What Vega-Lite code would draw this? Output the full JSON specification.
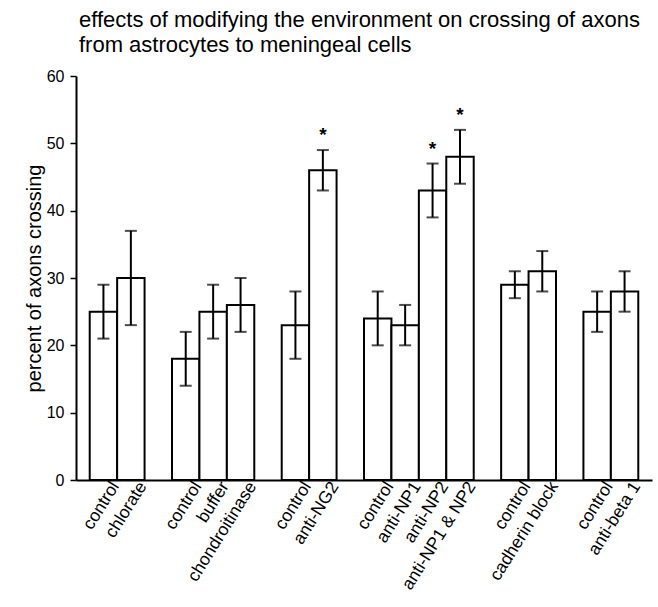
{
  "$schema": "https://vega.github.io/schema/vega-lite/v6.json",
  "width": 576,
  "height": 404,
  "autosize": {"type": "none"},
  "padding": {"left": 76, "top": 76, "right": 6, "bottom": 127},
  "background": "white",
  "title": {
    "text": ["effects of modifying the environment on crossing of axons", "from astrocytes to meningeal cells"],
    "anchor": "start",
    "frame": "group",
    "font": "Liberation Sans",
    "fontSize": 22,
    "fontWeight": "normal",
    "color": "black",
    "lineHeight": 25,
    "offset": 11,
    "dx": 3
  },
  "data": {
    "values": [
      {"key": "1|control", "value": 25, "lo": 21, "hi": 29, "star": false},
      {"key": "1|chlorate", "value": 30, "lo": 23, "hi": 37, "star": false},
      {"key": "2|control", "value": 18, "lo": 14, "hi": 22, "star": false},
      {"key": "2|buffer", "value": 25, "lo": 21, "hi": 29, "star": false},
      {"key": "2|chondroitinase", "value": 26, "lo": 22, "hi": 30, "star": false},
      {"key": "3|control", "value": 23, "lo": 18, "hi": 28, "star": false},
      {"key": "3|anti-NG2", "value": 46, "lo": 43, "hi": 49, "star": true},
      {"key": "4|control", "value": 24, "lo": 20, "hi": 28, "star": false},
      {"key": "4|anti-NP1", "value": 23, "lo": 20, "hi": 26, "star": false},
      {"key": "4|anti-NP2", "value": 43, "lo": 39, "hi": 47, "star": true},
      {"key": "4|anti-NP1 & NP2", "value": 48, "lo": 44, "hi": 52, "star": true},
      {"key": "5|control", "value": 29, "lo": 27, "hi": 31, "star": false},
      {"key": "5|cadherin block", "value": 31, "lo": 28, "hi": 34, "star": false},
      {"key": "6|control", "value": 25, "lo": 22, "hi": 28, "star": false},
      {"key": "6|anti-beta 1", "value": 28, "lo": 25, "hi": 31, "star": false}
    ]
  },
  "encoding": {
    "x": {
      "field": "key",
      "type": "nominal",
      "sort": null,
      "scale": {
        "domain": ["1|control", "1|chlorate", "g1", "2|control", "2|buffer", "2|chondroitinase", "g2", "3|control", "3|anti-NG2", "g3", "4|control", "4|anti-NP1", "4|anti-NP2", "4|anti-NP1 & NP2", "g4", "5|control", "5|cadherin block", "g5", "6|control", "6|anti-beta 1"],
        "paddingInner": 0,
        "paddingOuter": 0.5
      },
      "axis": {
        "title": null,
        "ticks": false,
        "grid": false,
        "domainColor": "black",
        "domainWidth": 2,
        "labelExpr": "indexof(datum.value,'|')>=0 ? split(datum.value,'|')[1] : ''",
        "labelAngle": -58,
        "labelAlign": "right",
        "labelBaseline": "middle",
        "labelPadding": 3,
        "labelOffset": 12,
        "labelFont": "Liberation Sans",
        "labelFontSize": 17.5,
        "labelColor": "black",
        "labelOverlap": false,
        "labelBound": false
      }
    }
  },
  "layer": [
    {
      "mark": {"type": "bar", "fill": "white", "stroke": "black", "strokeWidth": 2},
      "encoding": {
        "y": {
          "field": "value",
          "type": "quantitative",
          "scale": {"domain": [0, 60], "nice": false},
          "axis": {
            "title": "percent of axons crossing",
            "titleFont": "Liberation Sans",
            "titleFontSize": 20,
            "titleFontWeight": "normal",
            "titleColor": "black",
            "titlePadding": 2,
            "values": [0, 10, 20, 30, 40, 50, 60],
            "grid": false,
            "tickSize": 6,
            "tickColor": "black",
            "tickWidth": 1.5,
            "domainColor": "black",
            "domainWidth": 2,
            "labelFont": "Liberation Sans",
            "labelFontSize": 16,
            "labelColor": "black",
            "labelPadding": 6
          }
        }
      }
    },
    {
      "mark": {"type": "rule", "color": "black", "strokeWidth": 2},
      "encoding": {
        "y": {"field": "lo", "type": "quantitative"},
        "y2": {"field": "hi"}
      }
    },
    {
      "mark": {"type": "tick", "color": "black", "thickness": 2, "size": 12, "orient": "horizontal"},
      "encoding": {
        "y": {"field": "lo", "type": "quantitative"}
      }
    },
    {
      "mark": {"type": "tick", "color": "black", "thickness": 2, "size": 12, "orient": "horizontal"},
      "encoding": {
        "y": {"field": "hi", "type": "quantitative"}
      }
    },
    {
      "transform": [{"filter": "datum.star"}],
      "mark": {"type": "text", "text": "*", "font": "Liberation Sans", "fontSize": 19, "fontWeight": "bold", "baseline": "alphabetic", "dy": -9, "color": "black"},
      "encoding": {
        "y": {"field": "hi", "type": "quantitative"}
      }
    }
  ],
  "config": {"view": {"stroke": null}}
}
